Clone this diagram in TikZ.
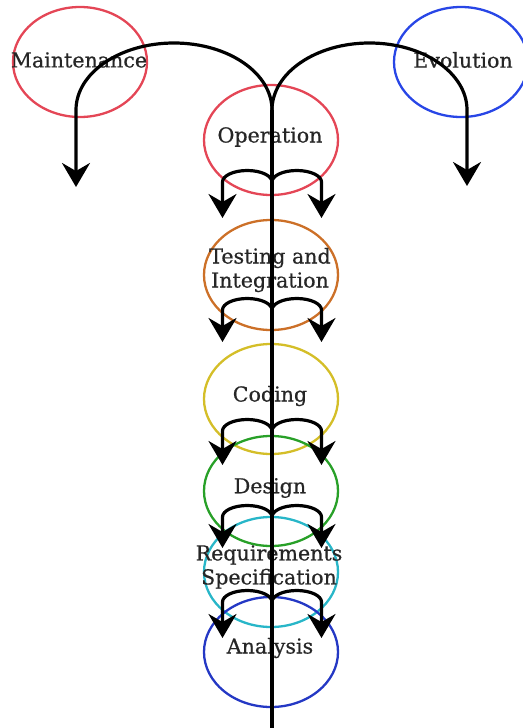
\documentclass[tikz,border=0pt]{standalone}
\usepackage{fontspec}
\setmainfont{DejaVu Serif}
\newfontfamily\phasefont{DejaVu Serif}[FakeBold=0.6]
\usetikzlibrary{shapes.geometric,arrows.meta}

\definecolor{cRed}{RGB}{228,70,86}
\definecolor{cBlue}{RGB}{40,70,230}
\definecolor{cOrange}{RGB}{204,112,40}
\definecolor{cYellow}{RGB}{212,190,40}
\definecolor{cGreen}{RGB}{40,160,40}
\definecolor{cCyan}{RGB}{40,182,200}
\definecolor{cNavy}{RGB}{36,56,196}

\tikzset{
  phase/.style={ellipse, draw=#1, line width=2.3pt, inner sep=0pt,
    minimum width=134pt, minimum height=110pt},
  lbl/.style={inner sep=0pt, align=center,
    font=\phasefont\fontsize{20.6}{24}\selectfont, text=black!85},
  flow/.style={line width=3.2pt, black,
    -{Stealth[length=24pt,width=28pt,inset=8pt]}},
  spine/.style={line width=3.2pt, black},
}

\begin{document}
\begin{tikzpicture}[x=1pt,y=-1pt]
  \useasboundingbox (0,0) rectangle (522,728);

  % life-cycle phases (outline, then caption)
  \node[phase=cRed]    (maint) at (80,62)   {};
  \node[phase=cBlue]   (evol)  at (461,62)  {};
  \node[phase=cRed]    (oper)  at (271,140) {};
  \node[phase=cOrange] (test)  at (271,275) {};
  \node[phase=cYellow] (code)  at (271,399) {};
  \node[phase=cGreen]  (des)   at (271,491) {};
  \node[phase=cCyan]   (req)   at (271,572) {};
  \node[phase=cNavy]   (ana)   at (271,652) {};

  \node[lbl] (maintT) at (79,60)   {Maintenance};
  \node[lbl] (evolT)  at (463,60)  {Evolution};
  \node[lbl] (operT)  at (270,137) {Operation};
  \node[lbl] (testT)  at (270,270) {Testing and\\Integration};
  \node[lbl] (codeT)  at (270,396) {Coding};
  \node[lbl] (desT)   at (270,488) {Design};
  \node[lbl] (reqT)   at (269,567) {Requirements\\Specification};
  \node[lbl] (anaT)   at (270,648) {Analysis};

  % junction points on the spine and arrow ends
  \coordinate (top) at (272,110);
  \coordinate (bot) at (272,730);
  \coordinate (mEnd) at (76,187);
  \coordinate (eEnd) at (467,186);

  % spine
  \draw[spine] (top) -- (bot);

  % large branches to maintenance and evolution
  \draw[flow] (top) arc[start angle=0,end angle=180,x radius=98pt,y radius=67pt] -- (mEnd);
  \draw[flow] (top) arc[start angle=180,end angle=0,x radius=97.5pt,y radius=67pt] -- (eEnd);

  % small branch pairs along the spine
  \foreach \n/\c/\t in {1/182/218, 2/310/342, 3/431/465, 4/517/548, 5/602/638}{
    \coordinate (s\n)  at (272,\c);
    \coordinate (s\n l) at (222.5,\t);
    \coordinate (s\n r) at (321.5,\t);
    \draw[flow] (s\n) arc[start angle=0,end angle=180,x radius=24.75pt,y radius=11.5pt] -- (s\n l);
    \draw[flow] (s\n) arc[start angle=180,end angle=0,x radius=24.75pt,y radius=11.5pt] -- (s\n r);
  }
\end{tikzpicture}
\end{document}
